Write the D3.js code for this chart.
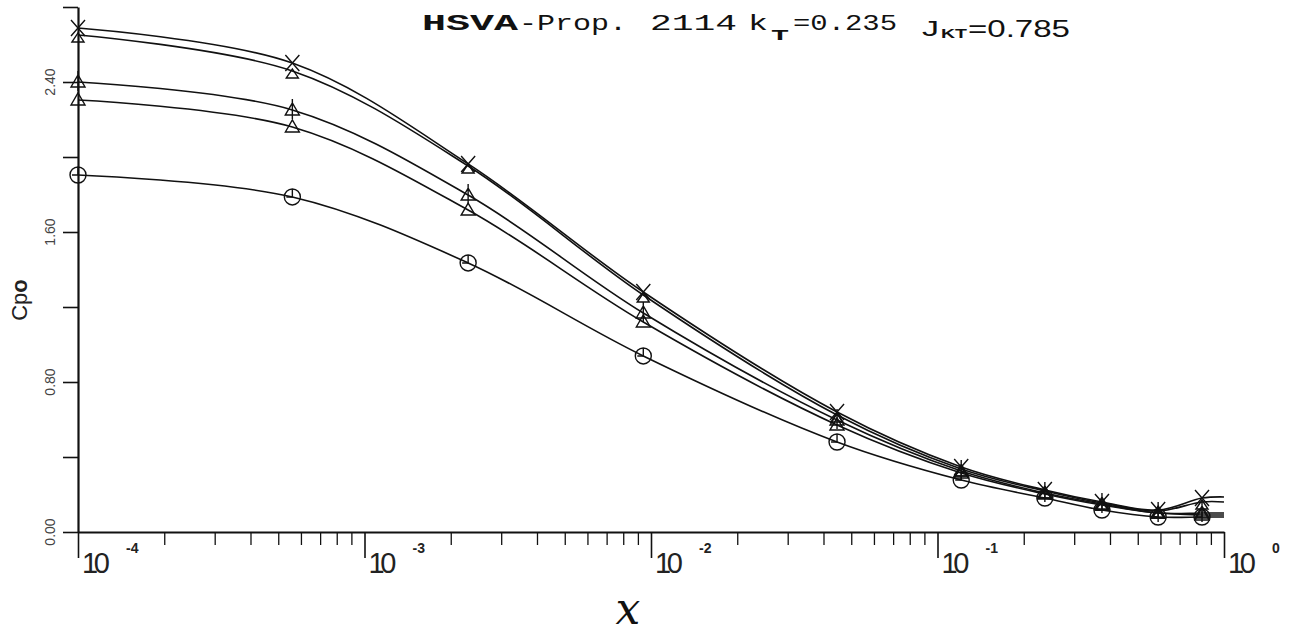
<!DOCTYPE html>
<html>
<head>
<meta charset="utf-8">
<script src="https://cdn.jsdelivr.net/npm/d3@7"></script>
<style>
  body { margin: 0; background: #fff; }
  svg { display: block; }
  .axis path, .axis line { stroke: #111; }
  .curve { fill: none; stroke: #111; stroke-width: 1.6; }
  .mark { fill: none; stroke: #111; stroke-width: 1.4; }
</style>
</head>
<body>
<svg id="chart"></svg>
<script>
/* data */
var xValues = [1e-4, 5.6e-4, 2.3e-3, 9.4e-3, 0.0446, 0.121, 0.237, 0.375, 0.589, 0.838, 1.0];

var cpoCross     = [2.688, 2.501, 1.963, 1.280, 0.640, 0.347, 0.224, 0.160, 0.117, 0.181, 0.187];
var cpoTriSmall  = [2.651, 2.459, 1.952, 1.264, 0.624, 0.336, 0.219, 0.155, 0.112, 0.160, 0.160];
var cpoTriPlus   = [2.400, 2.251, 1.797, 1.168, 0.597, 0.325, 0.208, 0.149, 0.101, 0.101, 0.101];
var cpoTri       = [2.304, 2.160, 1.717, 1.120, 0.571, 0.315, 0.203, 0.144, 0.101, 0.091, 0.091];
var cpoCircle    = [1.904, 1.787, 1.435, 0.939, 0.480, 0.277, 0.181, 0.117, 0.080, 0.080, 0.080];

var yTicks = [0, 0.4, 0.8, 1.2, 1.6, 2.0, 2.4, 2.8];
var yTickLabels = ["0.00", "", "0.80", "", "1.60", "", "2.40", ""];
var xDecades = [-4, -3, -2, -1, 0];
var xExpLabels = ["-4", "-3", "-2", "-1", "0"];

var series = [
  { name: "cross",    values: cpoCross },
  { name: "triSmall", values: cpoTriSmall },
  { name: "triPlus",  values: cpoTriPlus },
  { name: "tri",      values: cpoTri },
  { name: "circle",   values: cpoCircle }
];

/* sizes (plot frame) */
var width = 1291, height = 637;
var plotLeft = 78, plotRight = 1224, plotTop = 7, plotBottom = 532;

var svg = d3.select("#chart").attr("width", width).attr("height", height);
svg.append("rect").attr("width", width).attr("height", height).attr("fill", "#fff");

var xScale = d3.scaleLog().domain([1e-4, 1]).range([plotLeft, plotRight]);
var yScale = d3.scaleLinear().domain([0, 2.8]).range([plotBottom, plotTop]);

/* x axis: long major ticks, short minor ticks */
var majors = xDecades.map(function(e){ return Math.pow(10, e); });
var minors = [];
xDecades.slice(0, -1).forEach(function(e){
  for (var k = 2; k <= 9; k++) minors.push(k * Math.pow(10, e));
});

svg.append("g").attr("class", "axis")
  .attr("transform", "translate(0," + plotBottom + ")")
  .call(d3.axisBottom(xScale).tickValues(minors).tickSize(13).tickSizeOuter(0).tickFormat(""))
  .call(function(g){ g.selectAll("line").attr("stroke-width", 1.3); g.select(".domain").remove(); });

svg.append("g").attr("class", "axis")
  .attr("transform", "translate(0," + plotBottom + ")")
  .call(d3.axisBottom(xScale).tickValues(majors).tickSize(26).tickSizeOuter(0).tickFormat(""))
  .call(function(g){
    g.selectAll("line").attr("stroke-width", 1.6);
    g.select(".domain").attr("stroke-width", 2.2);
  });

/* decade labels 10^n */
var xLab = svg.append("g").attr("font-family", "Liberation Sans, Arial, sans-serif").attr("fill", "#222");
xDecades.forEach(function(e, i){
  var px = xScale(Math.pow(10, e));
  xLab.append("text").attr("x", px + 4).attr("y", 573)
    .attr("font-size", 29).attr("font-weight", 300)
    .attr("textLength", 28).attr("lengthAdjust", "spacing").text("10");
  xLab.append("text").attr("x", px + 48).attr("y", 553)
    .attr("font-size", 14).attr("font-weight", "bold").text(xExpLabels[i]);
});

/* y axis */
svg.append("g").attr("class", "axis")
  .attr("transform", "translate(" + plotLeft + ",0)")
  .call(d3.axisLeft(yScale).tickValues(yTicks).tickSize(15).tickSizeOuter(0).tickFormat(""))
  .call(function(g){
    g.selectAll("line").attr("stroke-width", 1.6);
    g.select(".domain").attr("stroke-width", 2.2);
  });

svg.append("g").selectAll("text")
  .data(yTicks.filter(function(d, i){ return yTickLabels[i]; }))
  .enter().append("text")
    .attr("transform", function(d){ return "translate(55," + yScale(d) + ") rotate(-90)"; })
    .attr("text-anchor", "middle")
    .attr("font-family", "Liberation Sans, Arial, sans-serif")
    .attr("font-size", 14).attr("fill", "#444")
    .text(function(d){ return yTickLabels[yTicks.indexOf(d)]; });

/* axis titles */
var yTitle = svg.append("text")
  .attr("transform", "translate(27,300) rotate(-90)")
  .attr("text-anchor", "middle")
  .attr("font-family", "Liberation Sans, Arial, sans-serif")
  .attr("font-size", 22).attr("fill", "#222");
yTitle.append("tspan").text("Cp");
yTitle.append("tspan").attr("font-weight", "bold").text("o");

svg.append("text")
  .attr("x", 628).attr("y", 624)
  .attr("text-anchor", "middle")
  .attr("font-family", "DejaVu Serif, serif")
  .attr("font-style", "italic")
  .attr("font-size", 44).attr("fill", "#111")
  .text("x");

/* title pieces, typewriter style */
function titlePiece(txt, x, y, w, size, weight, family){
  svg.append("text").attr("x", x).attr("y", y)
    .attr("textLength", w).attr("lengthAdjust", "spacingAndGlyphs")
    .attr("font-family", family || "Liberation Mono, DejaVu Sans Mono, monospace")
    .attr("font-size", size).attr("font-weight", weight || "normal")
    .attr("fill", "#111").text(txt);
}
titlePiece("HSVA", 422, 30, 96, 22, "bold");
titlePiece("-Prop.", 519, 30, 108, 22);
titlePiece("2114", 650, 30, 87, 22);
titlePiece("k", 748, 30, 20, 22);
titlePiece("T", 771, 40, 18, 15, "bold");
titlePiece("=0.235", 793, 30, 104, 22);
titlePiece("J", 922, 36, 17, 22, "normal", "Liberation Sans, Arial, sans-serif");
titlePiece("KT", 941, 38, 26, 13, "bold", "Liberation Sans, Arial, sans-serif");
titlePiece("=0.785", 968, 37, 102, 23, "normal", "Liberation Sans, Arial, sans-serif");

/* curves */
var line = d3.line()
  .x(function(d){ return xScale(d.x); })
  .y(function(d){ return yScale(d.y); })
  .curve(d3.curveCatmullRom.alpha(0.5));

series.forEach(function(s){
  s.points = xValues.map(function(x, i){ return { x: x, y: s.values[i] }; });
});

svg.append("g").selectAll("path")
  .data(series)
  .enter().append("path")
    .attr("class", "curve")
    .attr("d", function(s){ return line(s.points); });

/* markers (the last point at x = 1 is only a curve end) */
function drawMarker(g, kind){
  if (kind === "cross") {
    g.append("path").attr("class", "mark").attr("d", "M-7,-8L7,8M7,-8L-7,8");
  } else if (kind === "triSmall") {
    g.append("path").attr("class", "mark").attr("fill", "#111").attr("d", "M-6,5L0,-4L6,5Z").attr("transform", "translate(0,2)");
  } else if (kind === "triPlus") {
    g.append("path").attr("class", "mark").attr("d", "M-7,5L0,-7L7,5ZM0,-11L0,9");
  } else if (kind === "tri") {
    g.append("path").attr("class", "mark").attr("d", "M-7,5L0,-7L7,5Z");
  } else {
    g.append("circle").attr("class", "mark").attr("r", 8);
    g.append("path").attr("class", "mark").attr("d", "M0,-8L0,0L-6,0");
  }
}

series.forEach(function(s){
  svg.append("g").selectAll("g")
    .data(s.points.filter(function(d){ return d.x < 1; }))
    .enter().append("g")
      .attr("transform", function(d){ return "translate(" + xScale(d.x) + "," + yScale(d.y) + ")"; })
      .each(function(){ drawMarker(d3.select(this), s.name); });
});
</script>
</body>
</html>
